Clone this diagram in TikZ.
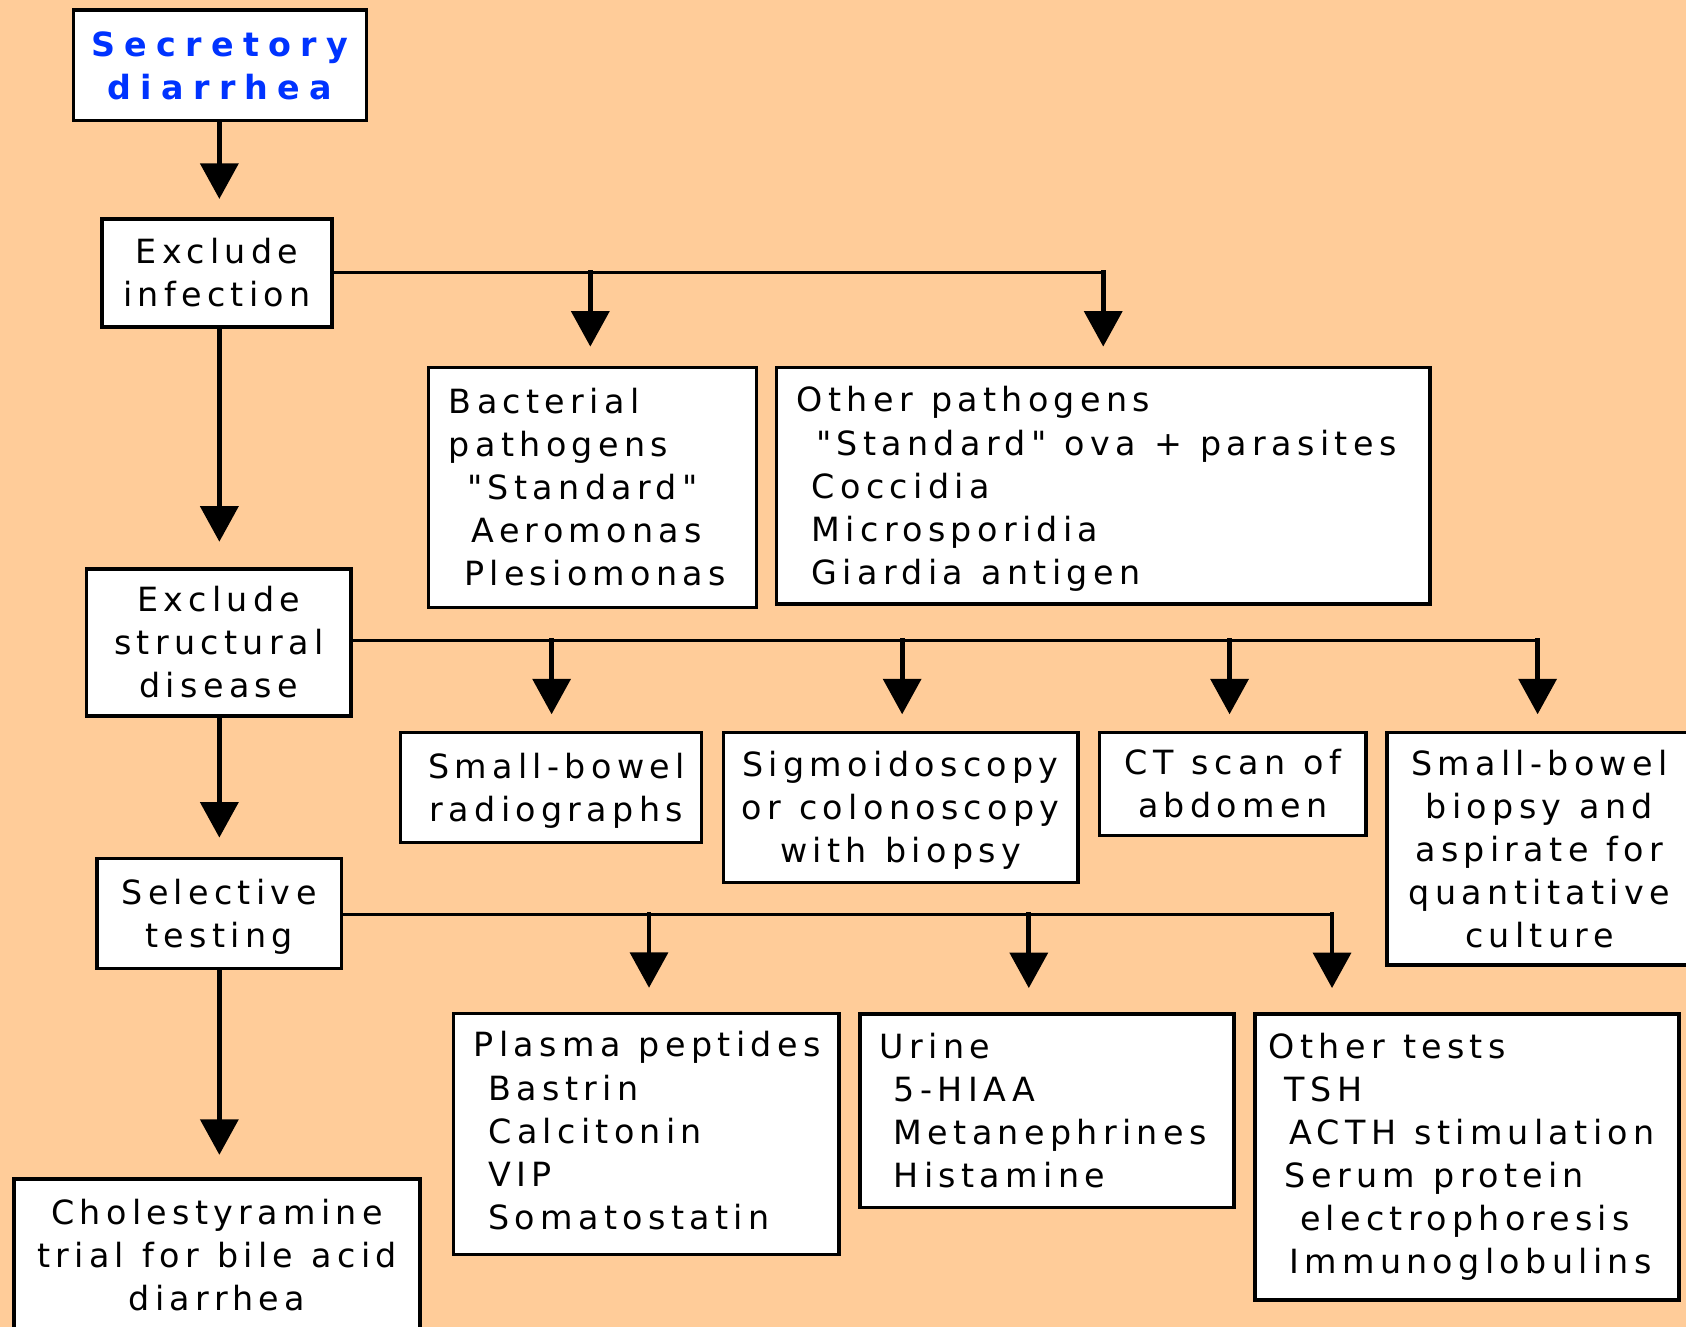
\documentclass[tikz,border=0pt]{standalone}
\usepackage{fontspec}
\setmainfont{DejaVu Sans}[LetterSpace=16, Ligatures=TeXOff]
\newfontfamily\titlefont{DejaVu Sans}[LetterSpace=28, Ligatures=TeXOff]
\usetikzlibrary{arrows.meta}
\definecolor{peach}{RGB}{255,204,153}
\definecolor{titleblue}{RGB}{0,51,255}
\newcommand{\lnstrut}{\spaceskip=17pt\relax\xspaceskip=17pt\relax\rule[-8.5pt]{0pt}{40pt}}
\newcommand{\lnstrutlow}{\rule[-14.5pt]{0pt}{1pt}}
\begin{document}
\begin{tikzpicture}[x=1pt,y=-1pt,
  every node/.style={font=\fontsize{31pt}{40pt}\selectfont},
  box/.style={draw=black, fill=white, line width=3.1pt, inner ysep=0pt,
    execute at begin node=\lnstrut, execute at end node=\lnstrut},
  cbox/.style={box, align=center, inner xsep=2pt},
  lbox/.style={box, align=left},
  raise/.style={execute at end node=\lnstrutlow},
  trunk/.style={line width=3.1pt, line cap=rect},
  arr/.style={line width=4.4pt, line cap=rect, -{Triangle[width=35pt,length=33pt]}},
]
\useasboundingbox (0,0) rectangle (1568,1234);
\fill[peach] (0,0) rectangle (1568,1234);

% left column
\node[cbox, text width=269pt, minimum height=103pt, text=titleblue,
  font=\titlefont\bfseries\fontsize{31pt}{40pt}\selectfont] (sec) at (204.6,60.8) {Secretory\\diarrhea};
\node[cbox, text width=209.9pt, minimum height=100.6pt] (exinf) at (201.8,253.85) {Exclude\\infection};
\node[cbox, text width=241.9pt, minimum height=136.7pt] (exstr) at (203.5,597.5) {Exclude\\structural\\disease};
\node[cbox, text width=223.2pt, minimum height=102.2pt] (sel) at (203.75,849.35) {Selective\\testing};
\node[cbox, text width=373.7pt, minimum height=141pt] (chol) at (201.8,1166.95) {Cholestyramine\\trial for bile acid\\diarrhea};

% infection row
\node[lbox, text width=267.3pt, inner xsep=19pt, minimum height=223.4pt] (bact) at (551.2,453.2)
  {\mbox{Bacterial}\\\mbox{pathogens}\\\hspace*{17pt}\mbox{"Standard"}\\\hspace*{21pt}\mbox{Aeromonas}\\\hspace*{14pt}\mbox{Plesiomonas}};
\node[lbox, text width=570pt, inner xsep=19pt, minimum height=220.3pt] (othp) at (1026,451.65)
  {\mbox{Other pathogens}\\\hspace*{18pt}\mbox{"Standard" ova + parasites}\\\hspace*{14pt}\mbox{Coccidia}\\\hspace*{14pt}\mbox{Microsporidia}\\\hspace*{14pt}\mbox{Giardia antigen}};

% structural row
\node[cbox, text width=275.9pt, minimum height=102.1pt] (sbr) at (512.5,732.4) {\hspace*{10pt}Small-bowel\\\hspace*{10pt}radiographs};
\node[cbox, text width=325.9pt, minimum height=139.1pt] (sig) at (837.5,750.9) {Sigmoidoscopy\\or colonoscopy\\with biopsy};
\node[cbox, text width=243.9pt, minimum height=95.5pt] (ct) at (1146.5,729.1) {CT scan of\\abdomen};
\node[cbox, text width=279.6pt, minimum height=216.1pt] (sbb) at (1431.65,789.4) {Small-bowel\\biopsy and\\aspirate for\\quantitative\\culture};

% selective row
\node[lbox, raise, text width=320.5pt, inner xsep=19pt, minimum height=223.8pt] (plasma) at (601.05,1054.5)
  {\mbox{Plasma peptides}\\\hspace*{13.5pt}\mbox{Bastrin}\\\hspace*{13.5pt}\mbox{Calcitonin}\\\hspace*{13.5pt}\mbox{VIP}\\\hspace*{13.5pt}\mbox{Somatostatin}};
\node[lbox, text width=310.7pt, inner xsep=18.5pt, minimum height=180pt] (urine) at (973.65,1032.9)
  {\mbox{Urine}\\\hspace*{13pt}\mbox{5-HIAA}\\\hspace*{13pt}\mbox{Metanephrines}\\\hspace*{13pt}\mbox{Histamine}};
\node[lbox, raise, text width=368.5pt, inner xsep=13pt, minimum height=266.1pt] (othert) at (1364.25,1075.95)
  {\mbox{Other tests}\\\hspace*{15pt}\mbox{TSH}\\\hspace*{19pt}\mbox{ACTH stimulation}\\\hspace*{15pt}\mbox{Serum protein}\\\hspace*{29pt}\mbox{electrophoresis}\\\hspace*{19pt}\mbox{Immunoglobulins}};

% junction coordinates
\coordinate (sx) at (204,0);
\coordinate (j1) at (549,253.6);
\coordinate (j2) at (1026,253.6);
\coordinate (k1) at (513,595.8);
\coordinate (k2) at (839,595.8);
\coordinate (k3) at (1143.5,595.8);
\coordinate (k4) at (1430,595.8);
\coordinate (m1) at (603.6,850.5);
\coordinate (m2) at (956.8,850.5);
\coordinate (m3) at (1238.8,850.5);

% main column
\draw[arr, shorten >=17pt] (sec.south -| sx) -- (exinf.north -| sx);
\draw[arr, shorten >=23.8pt] (exinf.south -| sx) -- (exstr.north -| sx);
\draw[arr, shorten >=17.7pt] (exstr.south -| sx) -- (sel.north -| sx);
\draw[arr, shorten >=20.9pt] (sel.south -| sx) -- (chol.north -| sx);

% infection branches
\draw[trunk] (exinf.east |- j1) -- (j2);
\draw[arr, shorten >=17.6pt] (j1) -- (j1 |- bact.north);
\draw[arr, shorten >=17.6pt] (j2) -- (j2 |- othp.north);

% structural branches
\draw[trunk] (exstr.east |- k1) -- (k4);
\draw[arr, shorten >=15.5pt] (k1) -- (k1 |- sbr.north);
\draw[arr, shorten >=15.5pt] (k2) -- (k2 |- sig.north);
\draw[arr, shorten >=15.5pt] (k3) -- (k3 |- ct.north);
\draw[arr, shorten >=15.5pt] (k4) -- (k4 |- sbb.north);

% selective branches
\draw[trunk] (sel.east |- m1) -- (m3);
\draw[arr, shorten >=22.4pt] (m1) -- (m1 |- plasma.north);
\draw[arr, shorten >=22.4pt] (m2) -- (m2 |- urine.north);
\draw[arr, shorten >=22.4pt] (m3) -- (m3 |- othert.north);
\end{tikzpicture}
\end{document}
